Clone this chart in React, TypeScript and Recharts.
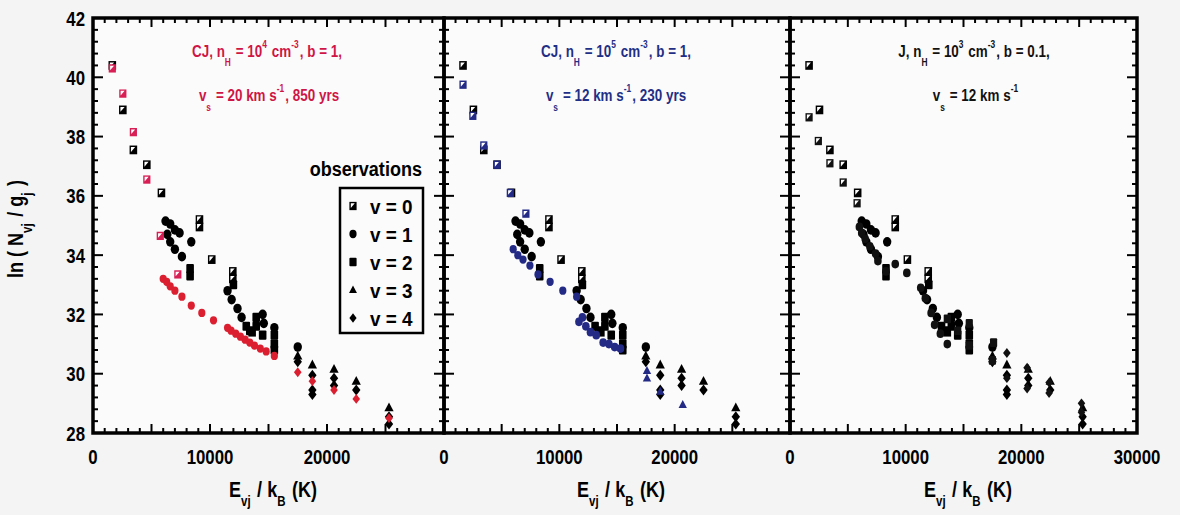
import React from 'react';
import { ScatterChart, Scatter, XAxis, YAxis } from 'recharts';

type P = [number, number]; // [E_vj / k_B (K), ln(N_vj / g_j)]

// observations (black markers, same in every panel)
const obsV0: P[] = [
  [1650, 40.4], [2550, 38.9], [3450, 37.55], [4600, 37.05], [5850, 36.1],
  [9100, 35.2], [9100, 34.95], [10150, 33.85], [11950, 33.45], [11950, 33.2], [13600, 31.4],
];
const obsV1: P[] = [
  [6200, 35.15], [6600, 35.05], [6350, 34.7], [7000, 34.85], [7400, 34.75], [6600, 34.45],
  [7000, 34.2], [7600, 33.95], [8400, 34.45], [11500, 32.8], [11850, 32.5], [12350, 32.2],
  [12700, 31.9], [14500, 32.0], [14600, 31.7], [15500, 31.55], [17500, 30.9],
];
const obsV2: P[] = [
  [8300, 33.55], [8300, 33.3], [12000, 33.0], [13100, 31.6], [13400, 31.45], [13950, 31.9],
  [13950, 31.6], [14500, 31.3], [15500, 31.3], [15500, 31.0], [15500, 30.8],
];
const obsV3: P[] = [[17500, 30.6], [18750, 30.3], [20600, 30.15], [22500, 29.75], [25300, 28.85]];
const obsV4: P[] = [
  [17500, 30.4], [18750, 29.95], [18750, 29.45], [18750, 29.3], [20600, 29.85],
  [20600, 29.6], [22500, 29.45], [25300, 28.55], [25300, 28.3],
];

// panel 1 model: CJ, nH = 1e4, b = 1, vs = 20 km/s
const redV0: P[] = [[1650, 40.3], [2550, 39.45], [3450, 38.15], [4600, 36.55], [5750, 34.65], [7250, 33.35]];
const redV1: P[] = [
  [6000, 33.2], [6300, 33.1], [6600, 32.95], [7000, 32.8], [7600, 32.6], [8400, 32.3],
  [9300, 32.05], [10300, 31.8], [11500, 31.55], [11800, 31.45], [12200, 31.35], [12600, 31.25],
  [13000, 31.15], [13400, 31.05], [13800, 30.95], [14300, 30.85], [14800, 30.75], [15500, 30.6],
];
const redV2: P[] = [[17500, 30.05], [18750, 29.75], [20600, 29.45], [22500, 29.15], [25300, 28.5]];

// panel 2 model: CJ, nH = 1e5, b = 1, vs = 12 km/s
const blueV0: P[] = [[1650, 39.75], [2500, 38.7], [3450, 37.7], [4600, 37.05], [5750, 36.1], [7100, 35.4]];
const blueV1: P[] = [
  [6000, 34.2], [6400, 34.0], [6850, 33.85], [7450, 33.65], [8150, 33.35], [9200, 33.1],
  [10300, 32.8], [11500, 32.6],
];
const blueV2: P[] = [
  [11700, 31.75], [12000, 31.9], [12300, 31.6], [12700, 31.4], [13200, 31.3], [13800, 31.05],
  [14300, 31.0], [14800, 30.9], [15300, 30.85],
];
const blueV3: P[] = [[17600, 30.1], [17600, 29.85], [18750, 29.4], [20700, 28.95]];

// panel 3 model: J, nH = 1e3, b = 0.1, vs = 12 km/s
const blkV0: P[] = [[1650, 38.65], [2450, 37.85], [3450, 37.1], [4600, 36.45], [5800, 35.75]];
const blkV1: P[] = [
  [6000, 34.95], [6200, 34.75], [6500, 34.55], [6900, 34.3], [7400, 34.05], [7600, 33.8],
  [8300, 33.45], [9100, 33.7], [10100, 33.4], [11300, 32.9], [11700, 32.55], [12200, 32.05],
  [12500, 31.65], [13000, 31.35], [13600, 31.0],
];
const blkV2: P[] = [[13600, 31.85], [14500, 31.45], [15500, 31.7], [15500, 30.95], [17600, 31.05], [17500, 30.45]];
const blkV3: P[] = [
  [18750, 30.7], [18750, 29.85], [20500, 30.2], [20500, 29.5], [22400, 29.7], [22400, 29.35],
  [25200, 29.0], [25200, 28.7],
];

const xTicks = Array.from({ length: 31 }, (_, i) => i * 1000);
const yTicks = Array.from({ length: 36 }, (_, i) => Math.round((28 + i * 0.4) * 10) / 10);
const xLabelsShort = [0, 10000, 20000];
const xLabelsLong = [0, 10000, 20000, 30000];
const yLabels = [28, 30, 32, 34, 36, 38, 40, 42];

const RED = '#dc1f30';
const BLUE = '#232a86';
const FONT = "'Liberation Sans', Arial, Helvetica, sans-serif";

// plot boxes in page pixels (left, right), top 18, bottom 433
const TOP = 18;
const BOTTOM = 433;
const frames = [
  [93, 444],
  [444, 790],
  [790, 1137],
];

const toPts = (a: P[]) => a.map(([e, ln]) => ({ e, ln }));

const mk = (kind: string, color: string, r = 4) => (p: any) => {
  const { cx, cy } = p;
  if (cx == null || cy == null) return <g />;
  if (kind === 'circle') return <ellipse cx={cx} cy={cy} rx={r} ry={r * 1.15} fill={color} />;
  if (kind === 'square')
    return <rect x={cx - r} y={cy - r * 1.2} width={2 * r} height={2.4 * r} rx={1} fill={color} />;
  if (kind === 'half')
    return (
      <g>
        <rect x={cx - r} y={cy - r * 1.15} width={2 * r} height={2.3 * r} fill={color} />
        <path d={`M${cx - r + 1.4},${cy - r * 1.15 + 1.4} h${r * 1.1} l${-r * 1.1},${r * 1.3}z`} fill="#fff" />
      </g>
    );
  if (kind === 'tri')
    return <path d={`M${cx},${cy - r * 1.25} L${cx + r * 1.1},${cy + r * 0.85} L${cx - r * 1.1},${cy + r * 0.85}Z`} fill={color} />;
  return <path d={`M${cx},${cy - r * 1.3} L${cx + r},${cy} L${cx},${cy + r * 1.3} L${cx - r},${cy}Z`} fill={color} />;
};

// narrow bold text (squeezed horizontally like the original condensed font)
const NT = ({ x, y, size, anchor = 'middle', sx = 0.8, fill = '#000', rotate, children }: any) => (
  <text
    transform={`translate(${x},${y})${rotate ? ` rotate(${rotate})` : ''} scale(${sx},1)`}
    fontSize={size}
    fontWeight="bold"
    fontFamily={FONT}
    textAnchor={anchor}
    fill={fill}
  >
    {children}
  </text>
);

const isMajorX = (v: number) => v % 5000 === 0;
const isMajorY = (v: number) => Math.abs(v / 2 - Math.round(v / 2)) < 1e-6;

const xLabel = (labels: number[]) => (p: any) => {
  const { x, y, payload } = p;
  const v = payload.value;
  if (!labels.includes(v)) return <g />;
  return <NT x={x} y={Number(y) + 31} size={21} sx={0.8}>{String(v)}</NT>;
};

const yLabel = (p: any) => {
  const { x, y, payload } = p;
  const v = payload.value;
  if (!yLabels.includes(v)) return <g />;
  return <NT x={Number(x) - 8} y={Number(y) + 7.5} size={21} anchor="end" sx={0.8}>{String(v)}</NT>;
};

const Panel = ({ left, width, mLeft, mRight, yw, xLabels, yLab, series }: any) => (
  <div style={{ position: 'absolute', left, top: 0 }}>
    <ScatterChart width={width} height={515} margin={{ top: TOP, right: mRight, bottom: 52, left: mLeft }}>
      <XAxis dataKey="e" type="number" domain={[0, 30000]} ticks={xTicks} interval={0}
        height={30} tickSize={0} tickMargin={0} tickLine={false} axisLine={false}
        tick={xLabel(xLabels)} allowDataOverflow />
      <YAxis dataKey="ln" type="number" domain={[28, 42]} ticks={yTicks} interval={0}
        width={yw} tickSize={0} tickMargin={0} tickLine={false} axisLine={false}
        tick={yLab ? yLabel : false} allowDataOverflow />
      {series.map((s: any, i: number) => (
        <Scatter key={i} data={toPts(s.data)} shape={s.shape} isAnimationActive={false} />
      ))}
    </ScatterChart>
  </div>
);

const obsSeries = [
  { data: obsV0, shape: mk('half', '#000', 3.8) },
  { data: obsV1, shape: mk('circle', '#000', 4.2) },
  { data: obsV2, shape: mk('square', '#000', 3.8) },
  { data: obsV3, shape: mk('tri', '#000', 4.2) },
  { data: obsV4, shape: mk('diamond', '#000', 4.2) },
];

const panels = [
  {
    left: 0, width: 447, mLeft: 33, mRight: 3, yw: 60, xLabels: xLabelsShort, yLab: true,
    series: [...obsSeries,
      { data: redV0, shape: mk('half', '#d81f55', 3.6) },
      { data: redV1, shape: mk('circle', RED, 3.6) },
      { data: redV2, shape: mk('diamond', RED, 3.8) }],
  },
  {
    left: 400, width: 393, mLeft: 44, mRight: 3, yw: 0, xLabels: xLabelsShort, yLab: false,
    series: [...obsSeries,
      { data: blueV0, shape: mk('half', BLUE, 3.6) },
      { data: blueV1, shape: mk('circle', BLUE, 3.6) },
      { data: blueV2, shape: mk('circle', BLUE, 3.8) },
      { data: blueV3, shape: mk('tri', BLUE, 3.8) }],
  },
  {
    left: 750, width: 420, mLeft: 40, mRight: 33, yw: 0, xLabels: xLabelsLong, yLab: false,
    series: [...obsSeries,
      { data: blkV0, shape: mk('half', '#111', 3.6) },
      { data: blkV1, shape: mk('circle', '#111', 3.8) },
      { data: blkV2, shape: mk('square', '#111', 3.6) },
      { data: blkV3, shape: mk('diamond', '#111', 3.8) }],
  },
];

const Sub = ({ children, d = 8, size = 11 }: any) => (
  <>
    <tspan dy={d} fontSize={size}>{children}</tspan>
    <tspan dy={-d}>{'\u200a'}</tspan>
  </>
);
const Sup = ({ children, d = 8, size = 10 }: any) => (
  <>
    <tspan dy={-d} fontSize={size}>{children}</tspan>
    <tspan dy={d}>{'\u200a'}</tspan>
  </>
);

const XTitle = ({ x }: { x: number }) => (
  <NT x={x} y={497} size={22} sx={0.82}>
    E<Sub d={9} size={14}>vj</Sub> / k<Sub d={9} size={14}>B</Sub> (K)
  </NT>
);

const legendItems = [
  { label: 'v = 0', kind: 'half' },
  { label: 'v = 1', kind: 'circle' },
  { label: 'v = 2', kind: 'square' },
  { label: 'v = 3', kind: 'tri' },
  { label: 'v = 4', kind: 'diamond' },
];

// inward tick marks on all four sides of one frame
const FrameTicks = ({ a, b }: { a: number; b: number }) => {
  const px = (v: number) => a + (v / 30000) * (b - a);
  const py = (v: number) => BOTTOM - ((v - 28) / 14) * (BOTTOM - TOP);
  return (
    <g stroke="#000" strokeWidth={2}>
      {xTicks.map((v) => {
        const len = isMajorX(v) ? 9 : 5;
        const x = px(v);
        return (
          <g key={`x${v}`}>
            <line x1={x} x2={x} y1={BOTTOM} y2={BOTTOM - len} />
            <line x1={x} x2={x} y1={TOP} y2={TOP + len} />
          </g>
        );
      })}
      {yTicks.map((v) => {
        const len = isMajorY(v) ? 10 : 5;
        const y = py(v);
        return (
          <g key={`y${v}`}>
            <line x1={a} x2={a + len} y1={y} y2={y} />
            <line x1={b} x2={b - len} y1={y} y2={y} />
          </g>
        );
      })}
    </g>
  );
};

export default function App() {
  return (
    <div style={{ position: 'fixed', left: 0, top: 0, width: 1180, height: 515, background: '#f4f4f4', overflow: 'hidden' }}>
      <svg width={1180} height={515} style={{ position: 'absolute', left: 0, top: 0 }}>
        {frames.map(([a, b]) => (
          <rect key={a} x={a} y={TOP} width={b - a} height={BOTTOM - TOP} fill="#fbfbfb" />
        ))}
      </svg>
      {panels.map((p, i) => (
        <Panel key={i} {...p} />
      ))}
      <svg width={1180} height={515} style={{ position: 'absolute', left: 0, top: 0, pointerEvents: 'none' }}>
        {frames.map(([a, b]) => (
          <g key={a}>
            <FrameTicks a={a} b={b} />
            <rect x={a} y={TOP} width={b - a} height={BOTTOM - TOP} fill="none" stroke="#000" strokeWidth={3.5} />
          </g>
        ))}
        {/* y axis title */}
        <NT x={23} y={229} size={22} sx={0.82} rotate={-90}>
          ln ( N<Sub d={9} size={14}>vj</Sub> / g<Sub d={9} size={14}>j</Sub> )
        </NT>
        <XTitle x={273} />
        <XTitle x={621} />
        <XTitle x={968} />

        {/* panel annotations */}
        <NT x={267} y={57} size={16} sx={0.84} fill="#cf1545">
          CJ, n<Sub d={9} size={10}>H</Sub> = 10<Sup d={9} size={10}>4</Sup> cm<Sup d={9} size={10}>-3</Sup>, b = 1,
        </NT>
        <NT x={269} y={101} size={16} sx={0.84} fill="#cf1545">
          v<Sub d={10} size={10}>s</Sub> = 20 km s<Sup d={9} size={10}>-1</Sup>, 850 yrs
        </NT>
        <NT x={616} y={57} size={16} sx={0.84} fill="#1f2f86">
          CJ, n<Sub d={9} size={10}>H</Sub> = 10<Sup d={9} size={10}>5</Sup> cm<Sup d={9} size={10}>-3</Sup>, b = 1,
        </NT>
        <NT x={616} y={101} size={16} sx={0.84} fill="#1f2f86">
          v<Sub d={10} size={10}>s</Sub> = 12 km s<Sup d={9} size={10}>-1</Sup>, 230 yrs
        </NT>
        <NT x={974} y={57} size={16} sx={0.84} fill="#111">
          J, n<Sub d={9} size={10}>H</Sub> = 10<Sup d={9} size={10}>3</Sup> cm<Sup d={9} size={10}>-3</Sup>, b = 0.1,
        </NT>
        <NT x={976} y={101} size={16} sx={0.84} fill="#111">
          v<Sub d={10} size={10}>s</Sub> = 12 km s<Sup d={9} size={10}>-1</Sup>
        </NT>

        {/* legend */}
        <NT x={422} y={176} size={21} anchor="end" sx={0.86}>observations</NT>
        <rect x={340} y={188} width={83} height={145} fill="#fbfbfb" stroke="#000" strokeWidth={2.5} />
        {legendItems.map((it, i) => {
          const cy = 206 + i * 28;
          return (
            <g key={it.label}>
              {mk(it.kind, '#000', 3.6)({ cx: 353, cy })}
              <NT x={370} y={cy + 7.5} size={21} anchor="start" sx={0.9}>{it.label}</NT>
            </g>
          );
        })}
      </svg>
    </div>
  );
}
